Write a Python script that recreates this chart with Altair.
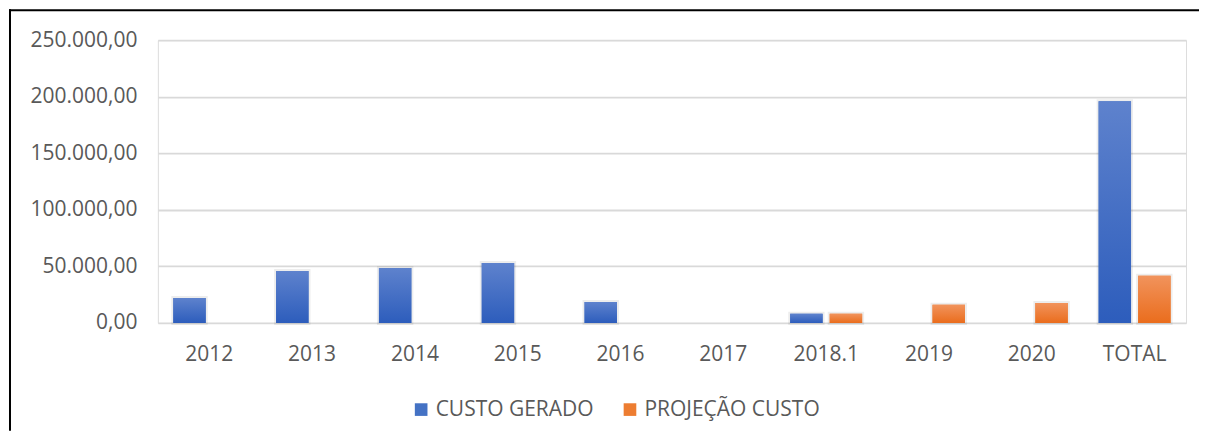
import altair as alt
import pandas as pd

categories = ["2012", "2013", "2014", "2015", "2016", "2017", "2018.1", "2019", "2020", "TOTAL"]
custo_gerado = [22100, 46000, 48600, 53000, 18500, 0, 8000, 0, 0, 196000]
projecao_custo = [0, 0, 0, 0, 0, 0, 8000, 16000, 17700, 41700]
series = ["CUSTO GERADO", "PROJEÇÃO CUSTO"]
y_ticks = [0, 50000, 100000, 150000, 200000, 250000]
legend_colors = ["#4472C4", "#ED7D31"]

rows = []
for c, a, b in zip(categories, custo_gerado, projecao_custo):
    rows.append({"ano": c, "serie": series[0], "valor": a})
    rows.append({"ano": c, "serie": series[1], "valor": b})
df = pd.DataFrame(rows)

W, H = 1029, 283
FONT = "Open Sans"
TXT = "#595959"
FS = 21

grad_blue = {"gradient": "linear", "x1": 0, "y1": 0, "x2": 0, "y2": 1,
             "stops": [{"offset": 0, "color": "#5E82CD"}, {"offset": 1, "color": "#2D5DBC"}]}
grad_orange = {"gradient": "linear", "x1": 0, "y1": 0, "x2": 0, "y2": 1,
               "stops": [{"offset": 0, "color": "#F1935C"}, {"offset": 1, "color": "#EA6D1D"}]}

x_enc = alt.X("ano:N", sort=categories,
              scale=alt.Scale(domain=categories, paddingInner=0.3, paddingOuter=0.15),
              axis=alt.Axis(title=None, labelAngle=0, domain=False, ticks=False, labelPadding=21,
                            labelFontSize=FS, labelFont=FONT, labelColor=TXT, grid=False))
xo_enc = alt.XOffset("serie:N", scale=alt.Scale(domain=series, paddingInner=0.18))
y_enc = alt.Y("valor:Q", scale=alt.Scale(domain=[0, 250000], nice=False),
              axis=alt.Axis(title=None, values=y_ticks, format=",.2f", domain=False, ticks=False,
                            labelPadding=21, labelFontSize=FS, labelFont=FONT, labelColor=TXT,
                            gridColor="#D9D9D9", gridWidth=1.8))

base = alt.Chart(df)

flat = base.mark_bar().encode(
    x=x_enc, xOffset=xo_enc, y=y_enc,
    color=alt.Color("serie:N", scale=alt.Scale(domain=series, range=legend_colors),
                    legend=alt.Legend(orient="none", legendX=253, legendY=359, direction="horizontal",
                                      title=None, symbolType="square", symbolSize=160,
                                      symbolStrokeWidth=0, labelFontSize=FS, labelFont=FONT,
                                      labelColor=TXT, columnPadding=25, labelOffset=4,
                                      labelLimit=400)),
)

shadow = base.mark_bar(fillOpacity=0, stroke="#000000", strokeOpacity=0.07, strokeWidth=4).encode(
    x=x_enc, xOffset=xo_enc, y=y_enc,
    opacity=alt.condition(alt.datum.valor > 0, alt.value(1), alt.value(0)),
)

grad = base.mark_bar().encode(
    x=x_enc, xOffset=xo_enc, y=y_enc,
    fill=alt.condition(alt.datum.serie == series[0], alt.value(grad_blue), alt.value(grad_orange)),
)

one = pd.DataFrame({"k": [0]})
top_line = alt.Chart(one).mark_rule(color="#000000", strokeWidth=2).encode(
    x=alt.value(-149), x2=alt.value(W + 13), y=alt.value(-30))
left_line = alt.Chart(one).mark_rule(color="#000000", strokeWidth=2).encode(
    x=alt.value(-148), y=alt.value(-31), y2=alt.value(H + 108))

chart = alt.layer(shadow, flat, grad, top_line, left_line).properties(
    width=W, height=H, padding={"left": 0, "top": 0, "right": 0, "bottom": 0}
).configure_view(strokeWidth=0).configure(
    locale={"number": {"decimal": ",", "thousands": ".", "grouping": [3], "currency": ["R$", ""]}}
)

chart.save("out.html", embed_options={"renderer": "svg", "actions": False})
